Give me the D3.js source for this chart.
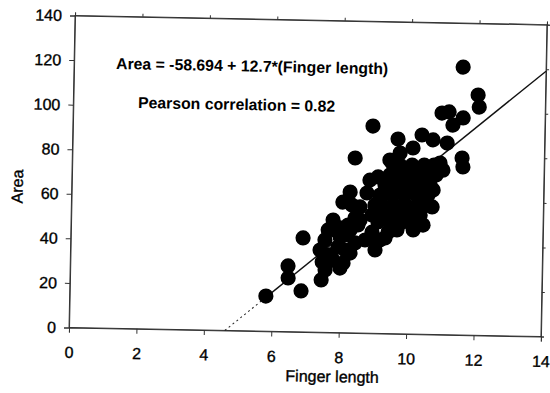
<!DOCTYPE html>
<html>
<head>
<meta charset="utf-8">
<script src="https://cdn.jsdelivr.net/npm/d3@7"></script>
<style>
  html, body { margin: 0; padding: 0; background: #fff; }
  svg text { font-family: Arial, "Liberation Sans", Helvetica, sans-serif; fill: #000; }
</style>
</head>
<body>
<div id="chart"></div>
<script>
// finger length (x) and area (y)
const fingerLength = [
  5.82, 6.86, 6.46, 6.47, 6.89, 7.45, 7.56, 7.79, 8.09, 7.40,
  7.54, 7.99, 7.93, 8.43, 7.77, 8.05, 8.26, 8.56, 8.39, 8.90,
  9.65, 10.36, 10.69, 11.11, 10.94, 11.15, 11.57, 11.27, 12.00, 12.04,
  11.54, 11.56, 11.59, 9.42, 9.72, 10.10, 10.91, 11.00, 10.72, 10.70,
  10.44, 10.15, 9.67, 9.17, 9.03, 8.84, 8.76, 9.08, 9.49, 8.93,
  8.57, 8.22, 7.83, 8.14,
  9.72, 10.08, 10.44, 10.73,
  9.43, 9.79, 10.15, 10.50, 10.80,
  9.29, 9.62, 9.97, 10.33, 10.63,
  9.15, 9.50, 9.86, 10.22, 10.57,
  9.21, 9.57, 9.92, 10.28, 10.58,
  9.31, 9.66, 10.02, 10.35,
  9.46, 9.82, 10.17,
  8.92, 9.00,
  7.98, 8.28, 8.42, 8.32, 7.70, 8.00, 8.29, 9.10, 9.32, 9.52,
  8.73, 7.63,
  8.13, 8.51, 8.93, 9.41, 7.47
];
const area = [
  15.8, 18.4, 29.5, 24.1, 42.2, 23.5, 28.0, 32.5, 31.3, 36.9,
  41.5, 42.9, 38.4, 40.4, 50.5, 58.6, 63.2, 56.6, 78.5, 93.0,
  87.4, 89.4, 87.3, 86.0, 99.4, 100.0, 97.4, 94.1, 107.8, 102.4,
  120.2, 79.4, 75.4, 77.9, 81.1, 83.5, 77.0, 73.8, 64.8, 57.2,
  49.0, 46.7, 46.6, 41.9, 37.4, 68.7, 62.9, 70.2, 76.6, 45.4,
  50.7, 48.4, 46.0, 37.1,
  75.7, 75.8, 75.9, 76.0,
  71.2, 71.3, 71.4, 71.5, 71.6,
  66.6, 66.7, 66.8, 66.9, 67.0,
  62.1, 62.2, 62.3, 62.4, 62.5,
  57.6, 57.7, 57.8, 57.9, 58.0,
  53.2, 53.3, 53.4, 53.4,
  50.0, 50.1, 50.2,
  53.1, 57.5,
  47.0, 46.1, 51.6, 57.4, 34.8, 29.0, 35.8, 50.0, 42.9, 50.1,
  41.8, 46.0,
  43.9, 48.5, 43.2, 45.6, 31.6
];
const xTicks = [0, 2, 4, 6, 8, 10, 12, 14];
const yTicks = [0, 20, 40, 60, 80, 100, 120, 140];
const intercept = -58.694;
const slope = 12.7;
const equationLabel = 'Area = -58.694 + 12.7*(Finger length)';
const pearsonLabel = 'Pearson correlation = 0.82';

const width = 550, height = 393;
const margin = { top: 20, right: 6, bottom: 61, left: 72 };
const plotW = width - margin.left - margin.right;
const plotH = height - margin.top - margin.bottom;

const svg = d3.select('#chart')
  .append('svg')
  .attr('width', width)
  .attr('height', height);

// the scan is tilted by about a degree, so the whole chart is too
const root = svg.append('g')
  .attr('transform', 'rotate(1.1, 305, 175)');

const g = root.append('g')
  .attr('transform', `translate(${margin.left}, ${margin.top})`);

const xScale = d3.scaleLinear().domain([0, 14]).range([0, plotW]);
const yScale = d3.scaleLinear().domain([0, 140]).range([plotH, 0]);

// frame
g.append('rect')
  .attr('width', plotW)
  .attr('height', plotH)
  .attr('fill', 'none')
  .attr('stroke', '#333')
  .attr('stroke-width', 1);

// axes
const xAxis = g.append('g')
  .attr('transform', `translate(0, ${plotH})`)
  .call(d3.axisBottom(xScale).tickValues(xTicks).tickSize(5).tickPadding(14));
const yAxis = g.append('g')
  .call(d3.axisLeft(yScale).tickValues(yTicks).tickSize(5).tickPadding(8));
g.append('g')
  .call(d3.axisTop(xScale).tickValues(xTicks).tickSize(3).tickFormat(''));
g.append('g')
  .attr('transform', `translate(${plotW}, 0)`)
  .call(d3.axisRight(yScale).tickValues(yTicks).tickSize(3).tickFormat(''));

g.selectAll('.domain').attr('stroke', '#333');
g.selectAll('.tick line').attr('stroke', '#333');
g.selectAll('.tick text')
  .style('font-size', '16px')
  .attr('fill', '#000')
  .attr('stroke', '#000')
  .attr('stroke-width', 0.35);

// axis titles
g.append('text')
  .attr('x', xScale(7.83))
  .attr('y', plotH + 49.5)
  .attr('text-anchor', 'middle')
  .attr('stroke', '#000')
  .attr('stroke-width', 0.35)
  .style('font-size', '16px')
  .text('Finger length');

g.append('text')
  .attr('transform', 'rotate(-90)')
  .attr('x', -(192 - margin.top))
  .attr('y', 17 - margin.left + 6)
  .attr('text-anchor', 'middle')
  .attr('stroke', '#000')
  .attr('stroke-width', 0.35)
  .style('font-size', '16px')
  .text('Area');

// regression line: dotted below the data range, solid across it
const xZero = -intercept / slope;
const xMinData = d3.min(fingerLength);
const fit = x => intercept + slope * x;

g.append('line')
  .attr('x1', xScale(xZero)).attr('y1', yScale(0))
  .attr('x2', xScale(xMinData)).attr('y2', yScale(fit(xMinData)))
  .attr('stroke', '#222')
  .attr('stroke-width', 1)
  .attr('stroke-dasharray', '2,3');

g.append('line')
  .attr('x1', xScale(xMinData)).attr('y1', yScale(fit(xMinData)))
  .attr('x2', xScale(14)).attr('y2', yScale(fit(14)))
  .attr('stroke', '#111')
  .attr('stroke-width', 1.4);

// points
g.selectAll('circle')
  .data(d3.zip(fingerLength, area))
  .enter()
  .append('circle')
  .attr('cx', d => xScale(d[0]))
  .attr('cy', d => yScale(d[1]))
  .attr('r', 7.6)
  .attr('fill', '#000');

// annotations
g.append('text')
  .attr('x', 114 - margin.left)
  .attr('y', 72.6 - margin.top)
  .style('font-size', '15.8px')
  .style('font-weight', 'bold')
  .text(equationLabel);

g.append('text')
  .attr('x', 136.7 - margin.left)
  .attr('y', 111.2 - margin.top)
  .style('font-size', '15.8px')
  .style('font-weight', 'bold')
  .text(pearsonLabel);
</script>
</body>
</html>
